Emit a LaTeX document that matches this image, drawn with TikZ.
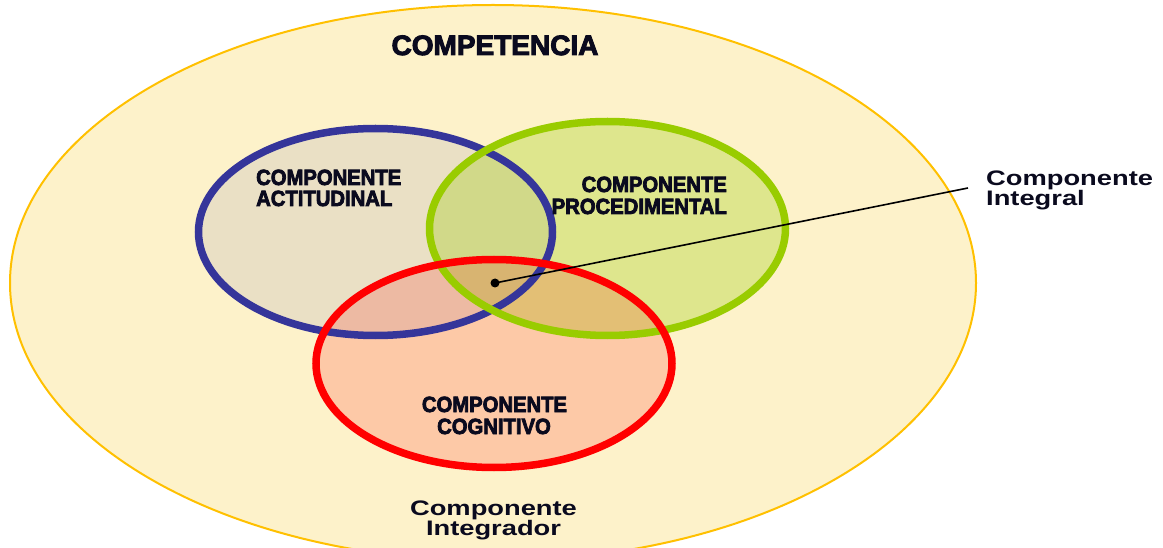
\documentclass[tikz,border=0pt]{standalone}
\usepackage{fontspec}
\setmainfont{Liberation Sans}
\newfontfamily\heavyfont{Liberation Sans}[FakeStretch=0.92,BoldFeatures={FakeBold=3.5}]
\newfontfamily\titlefont{Liberation Sans}[BoldFeatures={FakeBold=3.5}]
\newfontfamily\widefont{Liberation Sans}[FakeStretch=1.3]
\usetikzlibrary{shapes.geometric}
\definecolor{bgfill}{HTML}{FDF2CA}
\definecolor{gold}{HTML}{FFC000}
\definecolor{cblue}{HTML}{35359A}
\definecolor{cgreen}{HTML}{99CC00}
\definecolor{cred}{HTML}{FF0000}
\definecolor{ink}{HTML}{0A0A1E}
\tikzset{
  ringfill/.style={ellipse, inner sep=0pt, draw=none},
  ringline/.style={line width=7.5pt},
  heavylabel/.style={inner sep=0pt, text=ink, font=\heavyfont\bfseries\fontsize{22}{26}\selectfont},
  titlelabel/.style={inner sep=0pt, text=ink, font=\titlefont\bfseries\fontsize{28}{32}\selectfont},
  sanslabel/.style={inner sep=0pt, text=ink, font=\widefont\bfseries\fontsize{21}{25}\selectfont},
}
\begin{document}
\begin{tikzpicture}[x=1pt,y=-1pt]
\useasboundingbox (0,0) rectangle (1163,548);
% outer ellipse
\node[ellipse, inner sep=0pt, draw=gold, line width=2pt, fill=bgfill,
      minimum width=966pt, minimum height=556pt] (comp) at (493,283) {};
% three components: fills
\node[ringfill, fill=cblue, fill opacity=0.09,
      minimum width=354pt, minimum height=207pt] (act) at (375.5,232) {};
\node[ringfill, fill=cgreen, fill opacity=0.30,
      minimum width=356pt, minimum height=214pt] (proc) at (607.5,228.5) {};
\node[ringfill, fill=cred, fill opacity=0.17,
      minimum width=356pt, minimum height=208pt] (cog) at (494,363.5) {};
% outlines
\draw[ringline, cblue] (act.center) ellipse [x radius=177pt, y radius=103.5pt];
\draw[ringline, cgreen] (proc.center) ellipse [x radius=178pt, y radius=107pt];
\draw[ringline, cred] (cog.center) ellipse [x radius=178pt, y radius=104pt];
% labels
\node[titlelabel, anchor=base] (title) at (495,55) {COMPETENCIA};
\node[heavylabel, anchor=base west] (act1) at (256,185) {COMPONENTE};
\node[heavylabel, anchor=base west] (act2) at (256,206) {ACTITUDINAL};
\node[heavylabel, anchor=base east] (proc1) at (727,192) {COMPONENTE};
\node[heavylabel, anchor=base east] (proc2) at (727,214) {PROCEDIMENTAL};
\node[heavylabel, anchor=base] (cog1) at (494.5,412) {COMPONENTE};
\node[heavylabel, anchor=base] (cog2) at (494,434) {COGNITIVO};
\node[sanslabel, anchor=base west] (int1) at (986,186) {Componente};
\node[sanslabel, anchor=base west] (int2) at (986,206) {Integral};
\node[sanslabel, anchor=base] (ig1) at (493.5,515) {Componente};
\node[sanslabel, anchor=base] (ig2) at (493.5,535) {Integrador};
% integral point and pointer
\node[circle, fill=black, inner sep=0pt, minimum size=9pt] (dot) at (495,283) {};
\coordinate (lend) at (968,188);
\draw[line width=1.6pt, black] (dot.center) -- (lend);
\end{tikzpicture}
\end{document}
